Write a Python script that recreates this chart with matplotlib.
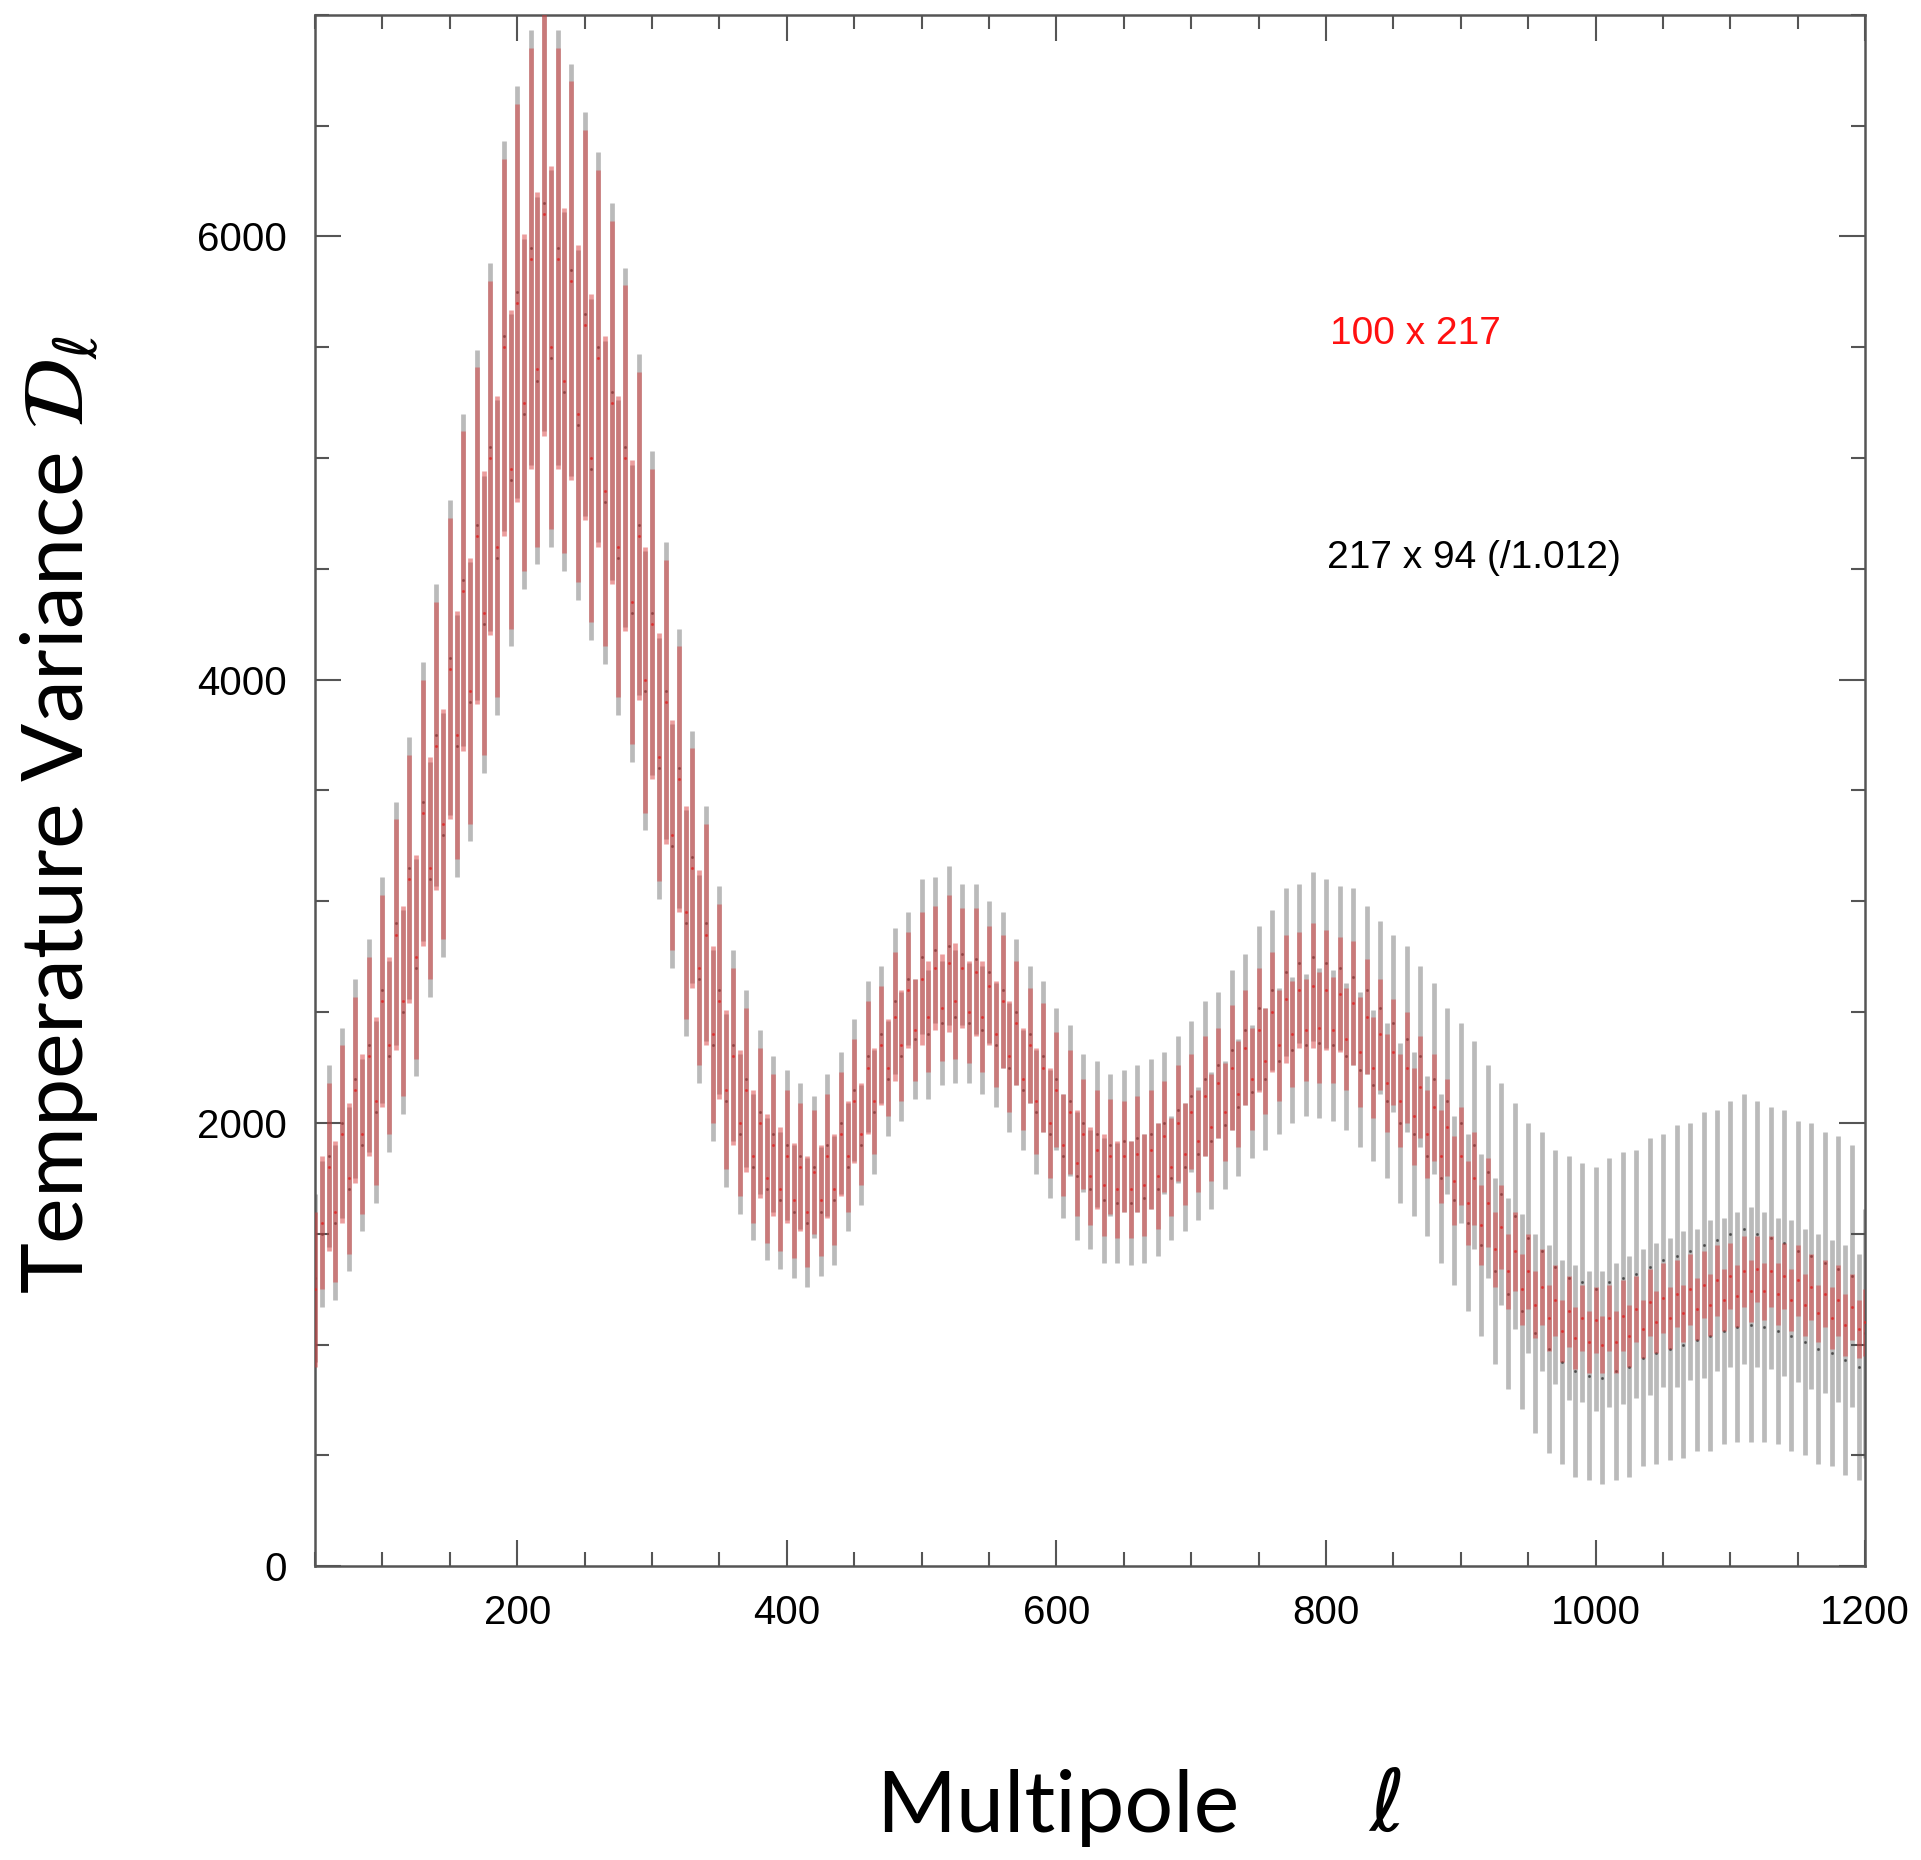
import matplotlib
matplotlib.use('Agg')
import matplotlib.pyplot as plt
from matplotlib.ticker import MultipleLocator
import numpy as np

# multipoles, one band every 5
ell = np.arange(50, 1201, 5)

# 100 x 217 spectrum (red)
red_val = [
    1250, 1550, 1800, 1600, 1950, 1750, 2150, 1950, 2300, 2100,
    2550, 2350, 2850, 2550, 3100, 2750, 3400, 3150, 3700, 3350,
    4050, 3750, 4400, 3950, 4650, 4300, 5000, 4600, 5500, 4950,
    5700, 5250, 5900, 5400, 6100, 5500, 5900, 5350, 5800, 5200,
    5600, 5000, 5450, 4850, 5250, 4600, 5000, 4350, 4650, 4000,
    4250, 3650, 3900, 3300, 3550, 2950, 3150, 2700, 2850, 2400,
    2550, 2150, 2300, 2000, 2150, 1850, 2000, 1750, 1900, 1700,
    1850, 1650, 1800, 1600, 1780, 1650, 1850, 1700, 1950, 1850,
    2100, 1950, 2250, 2100, 2350, 2250, 2480, 2350, 2600, 2420,
    2650, 2480, 2700, 2520, 2720, 2550, 2700, 2500, 2680, 2480,
    2620, 2400, 2550, 2300, 2450, 2200, 2350, 2100, 2250, 2000,
    2150, 1900, 2050, 1820, 1950, 1760, 1880, 1720, 1850, 1700,
    1850, 1700, 1860, 1720, 1880, 1760, 1940, 1800, 2000, 1860,
    2050, 1920, 2120, 1980, 2180, 2050, 2250, 2130, 2340, 2200,
    2420, 2280, 2500, 2350, 2560, 2400, 2600, 2420, 2620, 2430,
    2600, 2420, 2580, 2380, 2540, 2320, 2480, 2250, 2400, 2180,
    2320, 2100, 2250, 2030, 2160, 1950, 2070, 1850, 1980, 1740,
    1850, 1640, 1750, 1540, 1640, 1430, 1530, 1330, 1420, 1250,
    1330, 1180, 1260, 1120, 1200, 1060, 1150, 1030, 1120, 1010,
    1110, 1000, 1120, 1010, 1130, 1040, 1160, 1070, 1190, 1100,
    1210, 1120, 1230, 1140, 1250, 1160, 1270, 1180, 1290, 1200,
    1310, 1220, 1330, 1240, 1340, 1240, 1330, 1230, 1310, 1200,
    1290, 1180, 1260, 1140, 1230, 1120, 1200, 1090, 1170, 1070,
    1100,
]
red_err = [
    350, 300, 380, 320, 400, 340, 420, 360, 450, 380,
    480, 400, 520, 430, 560, 460, 600, 500, 650, 520,
    680, 560, 720, 600, 760, 640, 800, 680, 850, 720,
    900, 760, 950, 800, 1000, 820, 950, 780, 900, 760,
    880, 740, 850, 700, 820, 680, 780, 640, 740, 600,
    700, 560, 640, 520, 600, 480, 540, 440, 500, 400,
    440, 360, 400, 330, 370, 300, 340, 290, 320, 280,
    300, 260, 290, 250, 280, 250, 280, 250, 280, 250,
    280, 230, 300, 240, 270, 220, 290, 250, 260, 230,
    300, 250, 280, 240, 310, 260, 270, 230, 290, 250,
    270, 240, 300, 250, 280, 230, 260, 240, 290, 250,
    260, 230, 280, 240, 250, 220, 270, 230, 260, 220,
    250, 220, 260, 230, 270, 240, 250, 220, 260, 230,
    260, 230, 270, 240, 250, 220, 280, 240, 260, 230,
    280, 240, 270, 250, 290, 240, 260, 230, 280, 250,
    270, 240, 260, 230, 280, 250, 260, 230, 250, 220,
    240, 210, 250, 220, 230, 200, 240, 210, 220, 200,
    220, 190, 210, 180, 200, 170, 190, 170, 180, 160,
    170, 150, 170, 150, 160, 140, 160, 140, 150, 140,
    150, 130, 150, 140, 160, 140, 150, 130, 150, 140,
    160, 140, 150, 130, 160, 140, 150, 140, 160, 140,
    150, 140, 160, 140, 150, 130, 160, 140, 150, 140,
    160, 140, 150, 130, 150, 140, 160, 140, 150, 130,
    150,
]

# 217 x 94 spectrum, rescaled by 1/1.012 (grey)
grey_val = [
    1300, 1500, 1850, 1550, 2000, 1700, 2200, 1900, 2350, 2050,
    2600, 2300, 2900, 2500, 3150, 2700, 3450, 3100, 3750, 3300,
    4100, 3700, 4450, 3900, 4700, 4250, 5050, 4550, 5550, 4900,
    5750, 5200, 5950, 5350, 6150, 5450, 5950, 5300, 5850, 5150,
    5650, 4950, 5500, 4800, 5300, 4550, 5050, 4300, 4700, 3950,
    4300, 3600, 3950, 3250, 3600, 2900, 3200, 2650, 2900, 2350,
    2600, 2100, 2350, 1950, 2200, 1800, 2050, 1700, 1950, 1650,
    1900, 1600, 1850, 1550, 1800, 1600, 1900, 1650, 2000, 1800,
    2150, 1900, 2300, 2050, 2400, 2200, 2550, 2300, 2650, 2380,
    2750, 2400, 2780, 2450, 2800, 2480, 2760, 2450, 2740, 2420,
    2680, 2350, 2600, 2250, 2500, 2150, 2400, 2050, 2300, 1950,
    2200, 1850, 2100, 1760, 2000, 1700, 1950, 1650, 1900, 1640,
    1920, 1640, 1930, 1660, 1950, 1700, 2000, 1750, 2060, 1800,
    2120, 1860, 2200, 1920, 2260, 1990, 2330, 2070, 2420, 2140,
    2520, 2200, 2600, 2280, 2680, 2330, 2720, 2350, 2750, 2360,
    2720, 2350, 2700, 2300, 2660, 2240, 2600, 2170, 2520, 2100,
    2450, 2000, 2380, 1950, 2300, 1850, 2200, 1750, 2100, 1650,
    2000, 1550, 1900, 1450, 1780, 1330, 1680, 1230, 1580, 1150,
    1480, 1050, 1420, 980, 1350, 920, 1300, 880, 1280, 860,
    1250, 850, 1280, 880, 1300, 900, 1320, 940, 1350, 960,
    1380, 980, 1400, 1000, 1420, 1020, 1450, 1040, 1470, 1060,
    1500, 1080, 1520, 1090, 1500, 1080, 1480, 1060, 1460, 1040,
    1420, 1010, 1400, 980, 1370, 960, 1340, 930, 1310, 900,
    1050,
]
grey_err = [
    380, 330, 410, 350, 430, 370, 450, 390, 480, 410,
    510, 430, 550, 460, 590, 490, 630, 530, 680, 550,
    710, 590, 750, 630, 790, 670, 830, 710, 880, 750,
    930, 790, 980, 830, 1030, 850, 980, 810, 930, 790,
    910, 770, 880, 730, 850, 710, 810, 670, 770, 630,
    730, 590, 670, 550, 630, 510, 570, 470, 530, 430,
    470, 390, 430, 360, 400, 330, 370, 320, 350, 310,
    340, 300, 330, 290, 320, 290, 320, 290, 320, 290,
    320, 270, 340, 280, 310, 260, 330, 290, 300, 270,
    350, 290, 330, 280, 360, 300, 320, 270, 340, 290,
    320, 280, 350, 290, 330, 270, 310, 280, 340, 290,
    320, 280, 340, 290, 310, 270, 330, 280, 320, 270,
    320, 280, 330, 290, 340, 300, 320, 280, 330, 290,
    340, 300, 350, 310, 330, 290, 360, 310, 340, 300,
    370, 320, 360, 330, 380, 330, 360, 320, 380, 340,
    380, 340, 370, 330, 400, 350, 380, 340, 390, 350,
    400, 360, 420, 370, 410, 360, 430, 380, 420, 380,
    450, 400, 470, 410, 480, 420, 500, 430, 510, 440,
    520, 450, 540, 470, 530, 460, 550, 480, 540, 470,
    550, 480, 560, 490, 570, 500, 560, 490, 580, 500,
    570, 500, 590, 510, 580, 500, 600, 520, 590, 510,
    600, 520, 610, 530, 600, 520, 590, 510, 600, 520,
    590, 510, 600, 520, 590, 510, 600, 520, 590, 510,
    560,
]

fig = plt.figure(figsize=(19.21, 18.60), dpi=100)
ax = fig.add_axes([0.164, 0.158, 0.807, 0.834])

ax.errorbar(ell, grey_val, yerr=grey_err, fmt='none', ecolor='#4a4a4a',
            elinewidth=3.4, alpha=0.38, zorder=2)
ax.plot(ell, grey_val, '.', color='#333333', ms=2.5, alpha=0.6, zorder=2)
ax.errorbar(ell, red_val, yerr=red_err, fmt='none', ecolor='#d83c3c',
            elinewidth=3.4, alpha=0.5, zorder=3)
ax.plot(ell, red_val, '.', color='#e02020', ms=2.5, alpha=0.6, zorder=3)

ax.set_xlim(50, 1200)
ax.set_ylim(0, 7000)
ax.xaxis.set_major_locator(MultipleLocator(200))
ax.xaxis.set_minor_locator(MultipleLocator(50))
ax.yaxis.set_major_locator(MultipleLocator(2000))
ax.yaxis.set_minor_locator(MultipleLocator(500))
ax.tick_params(which='both', direction='in', top=True, right=True,
               color='#555555', width=1.5)
ax.tick_params(which='major', length=19, labelsize=29, pad=20)
ax.tick_params(which='minor', length=10)
for lab in ax.get_xticklabels() + ax.get_yticklabels():
    lab.set_family('Liberation Sans')
for sp in ax.spines.values():
    sp.set_color('#555555')
    sp.set_linewidth(1.8)

ax.text(803, 5560, '100 x 217', color='#ff1010', fontsize=28,
        family='Liberation Sans', va='center')
ax.text(801, 4550, '217 x 94 (/1.012)', color='black', fontsize=28,
        family='Liberation Sans', va='center')

plt.rcParams['mathtext.fontset'] = 'dejavusans'
fig.text(0.031, 0.562, r'Temperature Variance $\mathcal{D}_\ell$',
         rotation=90, fontsize=62, family='Lato', ha='center', va='center')
fig.text(0.456, 0.028, 'Multipole', fontsize=62, family='Lato',
         ha='left', va='center')
fig.text(0.712, 0.028, r'$\ell$', fontsize=62, ha='left', va='center')

fig.savefig('out.png', dpi=100, facecolor='white')
